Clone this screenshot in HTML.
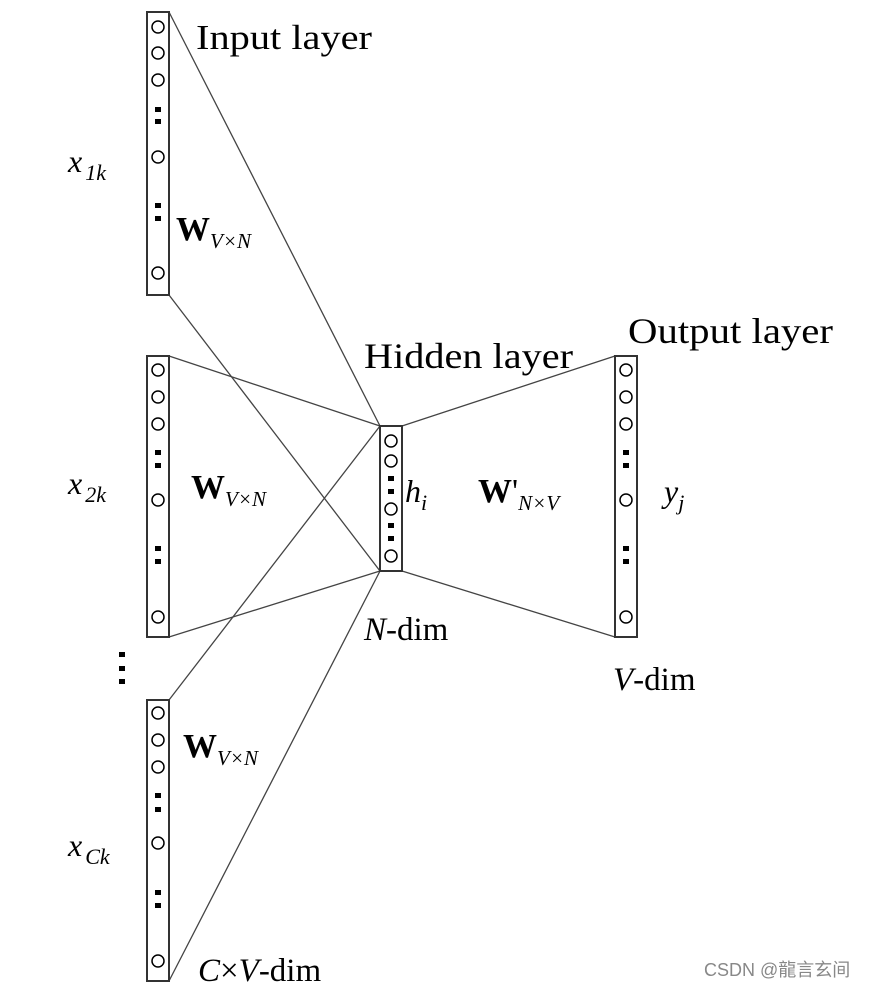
<!DOCTYPE html>
<html><head><meta charset="utf-8"><style>
html,body{margin:0;padding:0;background:#fff;width:869px;height:987px;overflow:hidden}
svg{display:block}
text{font-family:"Liberation Serif",serif;fill:#000}
.i{font-style:italic}
</style></head><body>
<svg width="869" height="987" viewBox="0 0 869 987" xmlns="http://www.w3.org/2000/svg">
<g stroke="#444" stroke-width="1.3" fill="none">
<line x1="169" y1="12" x2="380" y2="426"/>
<line x1="169" y1="295" x2="380" y2="571"/>
<line x1="169" y1="356" x2="380" y2="426"/>
<line x1="169" y1="637" x2="380" y2="571"/>
<line x1="169" y1="700" x2="380" y2="426"/>
<line x1="169" y1="981" x2="380" y2="571"/>
<line x1="402" y1="426" x2="615" y2="356"/>
<line x1="402" y1="571" x2="615" y2="637"/>
</g>
<g stroke="#333" stroke-width="2" fill="#fff">
<rect x="147" y="12" width="22" height="283"/>
<rect x="147" y="356" width="22" height="281"/>
<rect x="147" y="700" width="22" height="281"/>
<rect x="380" y="426" width="22" height="145"/>
<rect x="615" y="356" width="22" height="281"/>
</g>
<g stroke="#000" stroke-width="1.5" fill="#fff">
<circle cx="158" cy="27" r="6"/><circle cx="158" cy="53" r="6"/><circle cx="158" cy="80" r="6"/><circle cx="158" cy="157" r="6"/><circle cx="158" cy="273" r="6"/>
<circle cx="158" cy="370" r="6"/><circle cx="158" cy="397" r="6"/><circle cx="158" cy="424" r="6"/><circle cx="158" cy="500" r="6"/><circle cx="158" cy="617" r="6"/>
<circle cx="158" cy="713" r="6"/><circle cx="158" cy="740" r="6"/><circle cx="158" cy="767" r="6"/><circle cx="158" cy="843" r="6"/><circle cx="158" cy="961" r="6"/>
<circle cx="391" cy="441" r="6"/><circle cx="391" cy="461" r="6"/><circle cx="391" cy="509" r="6"/><circle cx="391" cy="556" r="6"/>
<circle cx="626" cy="370" r="6"/><circle cx="626" cy="397" r="6"/><circle cx="626" cy="424" r="6"/><circle cx="626" cy="500" r="6"/><circle cx="626" cy="617" r="6"/>
</g>
<g fill="#000">
<rect x="155" y="107" width="6" height="5"/><rect x="155" y="119" width="6" height="5"/>
<rect x="155" y="203" width="6" height="5"/><rect x="155" y="216" width="6" height="5"/>
<rect x="155" y="450" width="6" height="5"/><rect x="155" y="463" width="6" height="5"/>
<rect x="155" y="546" width="6" height="5"/><rect x="155" y="559" width="6" height="5"/>
<rect x="155" y="793" width="6" height="5"/><rect x="155" y="807" width="6" height="5"/>
<rect x="155" y="890" width="6" height="5"/><rect x="155" y="903" width="6" height="5"/>
<rect x="388" y="476" width="6" height="5"/><rect x="388" y="489" width="6" height="5"/>
<rect x="388" y="523" width="6" height="5"/><rect x="388" y="536" width="6" height="5"/>
<rect x="623" y="450" width="6" height="5"/><rect x="623" y="463" width="6" height="5"/>
<rect x="623" y="546" width="6" height="5"/><rect x="623" y="559" width="6" height="5"/>
<rect x="119" y="652" width="6" height="5"/><rect x="119" y="666" width="6" height="5"/><rect x="119" y="679" width="6" height="5"/>
</g>
<text x="196" y="49" font-size="35" textLength="176" lengthAdjust="spacingAndGlyphs">Input layer</text>
<text x="364" y="368" font-size="36" textLength="209" lengthAdjust="spacingAndGlyphs">Hidden layer</text>
<text x="628" y="343" font-size="36" textLength="205" lengthAdjust="spacingAndGlyphs">Output layer</text>
<text x="68" y="172" font-size="32" class="i">x<tspan font-size="22" dx="3" dy="8">1k</tspan></text>
<text x="68" y="494" font-size="32" class="i">x<tspan font-size="22" dx="3" dy="8">2k</tspan></text>
<text x="68" y="856" font-size="32" class="i">x<tspan font-size="22" dx="3" dy="8">Ck</tspan></text>
<text x="176" y="240" font-size="34" font-weight="bold">W<tspan font-size="21" font-weight="normal" class="i" dy="8">V×N</tspan></text>
<text x="191" y="498" font-size="34" font-weight="bold">W<tspan font-size="21" font-weight="normal" class="i" dy="8">V×N</tspan></text>
<text x="183" y="757" font-size="34" font-weight="bold">W<tspan font-size="21" font-weight="normal" class="i" dy="8">V×N</tspan></text>
<text x="478" y="502" font-size="34" font-weight="bold">W<tspan font-weight="normal">'</tspan><tspan font-size="21" font-weight="normal" class="i" dy="8">N×V</tspan></text>
<text x="405" y="502" font-size="32" class="i">h<tspan font-size="22" dy="8">i</tspan></text>
<text x="664" y="502" font-size="32" class="i">y<tspan font-size="22" dy="8">j</tspan></text>
<text x="364" y="640" font-size="33"><tspan class="i">N</tspan>-dim</text>
<text x="613" y="690" font-size="33"><tspan class="i">V</tspan>-dim</text>
<text x="198" y="981" font-size="33"><tspan class="i">C</tspan>×<tspan class="i">V</tspan>-dim</text>
<text x="704" y="976" font-size="18" style="font-family:'Liberation Sans','Noto Sans CJK SC',sans-serif;fill:#888">CSDN @龍言玄间</text>
</svg>
</body></html>
